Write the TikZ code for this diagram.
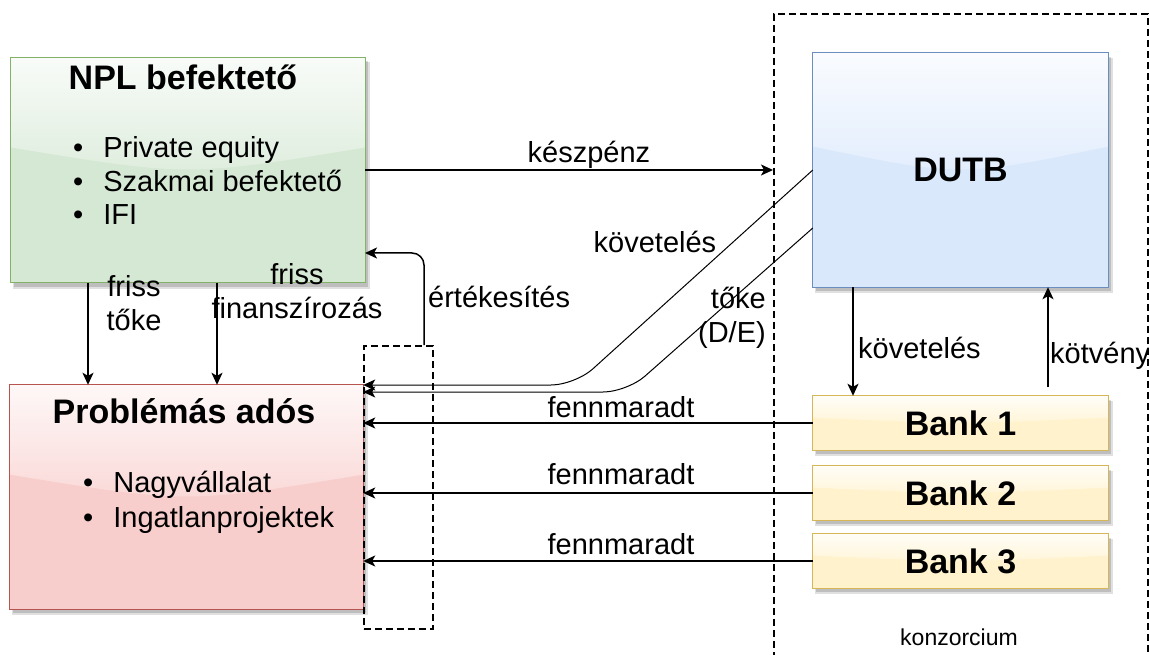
\documentclass[tikz,border=0pt]{standalone}
\usepackage{fontspec}
\setmainfont{Liberation Sans}
\usetikzlibrary{arrows.meta,calc,backgrounds}
\definecolor{gfill}{HTML}{D5E8D4}\definecolor{gline}{HTML}{82B366}
\definecolor{rfill}{HTML}{F8CECC}\definecolor{rline}{HTML}{B85450}
\definecolor{bfill}{HTML}{DAE8FC}\definecolor{bline}{HTML}{6C8EBF}
\definecolor{yfill}{HTML}{FFF2CC}\definecolor{yline}{HTML}{D6B656}
\newcommand\glassbox[3]{%
  \fill[black,opacity=0.12] ($(#1.north west)+(2,5)$) rectangle ($(#1.south east)+(5,6)$);
  \fill[black,opacity=0.15] ($(#1.north west)+(3,4)$) rectangle ($(#1.south east)+(3,4)$);
  \fill[#2] (#1.north west) rectangle (#1.south east);
  \shade[top color=#2!15!white, bottom color=#2!80!white]
    (#1.north west) -- ($(#1.north west)!0.4!(#1.south west)$)
    .. controls ($(#1.north)!0.53!(#1.south)$) .. ($(#1.north east)!0.4!(#1.south east)$)
    -- (#1.north east) -- cycle;
  \draw[#3, line width=1pt] (#1.north west) rectangle (#1.south east);
}
\begin{document}
\begin{tikzpicture}[x=1pt,y=-1pt,
  box/.style={draw=none,inner sep=0pt},
  titlef/.style={font=\fontsize{34}{40}\selectfont\bfseries},
  lab/.style={font=\fontsize{29}{34}\selectfont, inner sep=0pt, align=center},
  arr/.style={line width=1.5pt, -{Stealth[length=12pt,width=11pt,inset=3pt]}},
  thinarr/.style={line width=1pt, -{Stealth[length=12pt,width=11pt,inset=3pt]}},
  dashbox/.style={draw, line width=1.6pt, dash pattern=on 7pt off 4pt, inner sep=0pt, anchor=north west}]
\useasboundingbox (0,0) rectangle (1149,655);

% boxes
\node[box, minimum width=354pt, minimum height=225pt] (npl) at (188,170) {};
\node[box, minimum width=353pt, minimum height=224pt] (pa) at (186.5,497) {};
\node[box, titlef, minimum width=295pt, minimum height=234pt] (dutb) at (960.5,170) {DUTB};
\node[box, titlef, minimum width=295pt, minimum height=54pt] (bank1) at (960.5,423) {Bank 1};
\node[box, titlef, minimum width=295pt, minimum height=54pt] (bank2) at (960.5,493) {Bank 2};
\node[box, titlef, minimum width=295pt, minimum height=54pt] (bank3) at (960.5,561) {Bank 3};
\node[dashbox, minimum width=374pt, minimum height=660pt] (konz) at (773,13) {};
\node[dashbox, minimum width=69pt, minimum height=283pt] (sd) at (363,345) {};

\begin{scope}[on background layer]
  \fill[white] (0,0) rectangle (1149,655);
  \glassbox{npl}{gfill}{gline}
  \glassbox{pa}{rfill}{rline}
  \glassbox{dutb}{bfill}{bline}
  \glassbox{bank1}{yfill}{yline}
  \glassbox{bank2}{yfill}{yline}
  \glassbox{bank3}{yfill}{yline}
\end{scope}

% box texts
\node[titlef, inner sep=0pt, anchor=base] (npltitle) at (183,90) {NPL befektető};
\node[inner sep=0pt, anchor=base west, font=\fontsize{29}{33.5}\selectfont] (npllist) at (73,158)
  {\begin{tabular}[t]{@{}l@{\hspace{20pt}}l@{}}• & Private equity\\ • & Szakmai befektető\\ • & IFI\end{tabular}};
\node[titlef, inner sep=0pt, anchor=base] (patitle) at (184,423) {Problémás adós};
\node[inner sep=0pt, anchor=base west, font=\fontsize{29}{35}\selectfont] (palist) at (83,492)
  {\begin{tabular}[t]{@{}l@{\hspace{20pt}}l@{}}• & Nagyvállalat\\ • & Ingatlanprojektek\end{tabular}};
\node[inner sep=0pt, anchor=base, font=\fontsize{23}{28}\selectfont] (konzlab) at (959,645) {konzorcium};

% connectors
\coordinate (e0) at (424,345);
\coordinate (e1) at (365,253);
\coordinate (c1) at (575,385);
\coordinate (c2) at (627,392);
\draw[arr] (npl.east) -- (npl.east -| konz.west);
\draw[arr, rounded corners=12pt] (e0) |- (e1);
\draw[thinarr, rounded corners=24pt] (dutb.west |- 0,170) -- (c1) -- (pa.east |- c1);
\draw[thinarr, rounded corners=24pt] (dutb.west |- 0,228) -- (c2) -- (pa.east |- c2);
\draw[arr] (npl.south -| 88,0) -- (pa.north -| 88,0);
\draw[arr] (npl.south -| 217,0) -- (pa.north -| 217,0);
\draw[arr] (dutb.south -| 853,0) -- (bank1.north -| 853,0);
\draw[arr] (1048,387) -- (dutb.south -| 1048,0);
\draw[arr] (bank1.west) -- (pa.east |- bank1.west);
\draw[arr] (bank2.west) -- (pa.east |- bank2.west);
\draw[arr] (bank3.west) -- (pa.east |- bank3.west);

% labels
\node[lab, anchor=base] (lkp) at (589,163) {készpénz};
\node[lab, anchor=base] (lkov1) at (655,253) {követelés};
\node[lab, anchor=base east, align=right] (ltoke) at (766,342) {tőke\\(D/E)};
\node[lab, anchor=base west] (lert) at (428,308) {értékesítés};
\node[lab, anchor=base] (lft) at (134,330) {friss\\tőke};
\node[lab, anchor=base] (lff) at (297,318) {friss\\finanszírozás};
\node[lab, anchor=base west] (lkov2) at (858,358) {követelés};
\node[lab, anchor=base west] (lkot) at (1050,363) {kötvény};
\node[lab, anchor=base] (lf1) at (621,417) {fennmaradt};
\node[lab, anchor=base] (lf2) at (621,484) {fennmaradt};
\node[lab, anchor=base] (lf3) at (621,554) {fennmaradt};
\end{tikzpicture}
\end{document}
